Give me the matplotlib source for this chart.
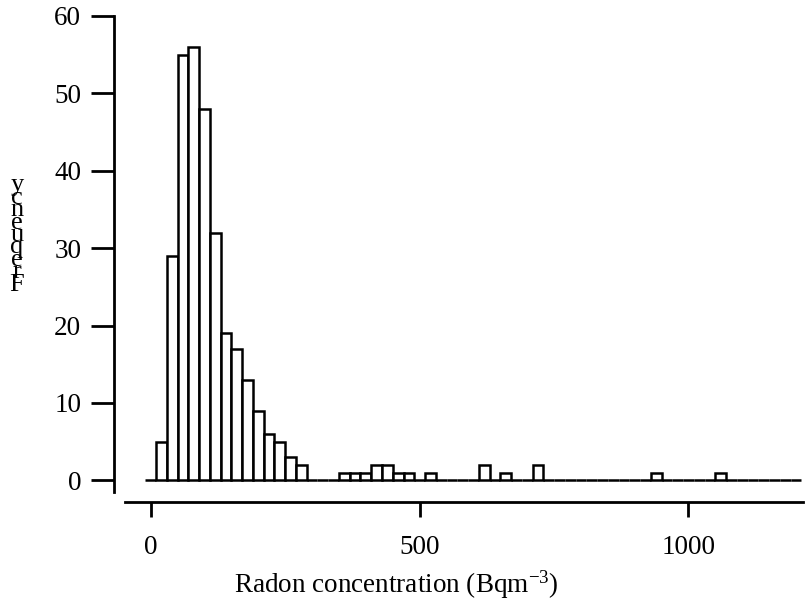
import numpy as np
import matplotlib
matplotlib.use("Agg")
import matplotlib.pyplot as plt

# Histogram bin edges (Bq m^-3) and counts per bin
bin_start = -10
bin_width = 20
bin_end = 1210
# (bin left edge, count) for non-empty bins
bin_lefts = [10, 30, 50, 70, 90, 110, 130, 150, 170, 190, 210, 230, 250, 270,
             350, 370, 390, 410, 430, 450, 470, 510,
             610, 650, 710, 930, 1050]
bin_counts = [5, 29, 55, 56, 48, 32, 19, 17, 13, 9, 6, 5, 3, 2,
              1, 1, 1, 2, 2, 1, 1, 1,
              2, 1, 2, 1, 1]
x_ticks = [0, 500, 1000]
y_ticks = [0, 10, 20, 30, 40, 50, 60]
x_label = "Radon concentration (Bqm$^{\\mathrm{-3}}$)"
y_label = "Frequency"

plt.rcParams['font.family'] = ['Liberation Serif', 'DejaVu Serif']
plt.rcParams['mathtext.fontset'] = 'custom'
plt.rcParams['mathtext.rm'] = 'Liberation Serif'
plt.rcParams['mathtext.it'] = 'Liberation Serif:italic'

edges = np.arange(bin_start, bin_end + bin_width, bin_width)
# rebuild weights per bin from the named lists
weights = np.zeros(len(edges) - 1)
for left, c in zip(bin_lefts, bin_counts):
    weights[int((left - bin_start) // bin_width)] = c
centers = edges[:-1] + bin_width / 2

fig = plt.figure(figsize=(8.12, 6.0), dpi=100)
ax = fig.add_axes([125 / 812, 108 / 600, 678 / 812, 476 / 600])

ax.hist(centers, bins=edges, weights=weights, histtype='bar',
        facecolor='white', edgecolor='black', linewidth=1.8)

ax.set_xlim(-48, 1213)
ax.set_ylim(-1.5, 60)

for s in ['top', 'right']:
    ax.spines[s].set_visible(False)
ax.spines['left'].set_position(('outward', 8))
ax.spines['bottom'].set_position(('outward', 7.2))
for s in ['left', 'bottom']:
    ax.spines[s].set_linewidth(2.0)

ax.set_xticks(x_ticks)
ax.set_yticks(y_ticks)
ax.tick_params(axis='y', direction='out', length=16.5, width=2.0, pad=7,
               labelsize=19.5)
ax.tick_params(axis='x', direction='out', length=11, width=2.0, pad=13,
               labelsize=19.5)

ax.set_xlabel(x_label, fontsize=19.5)
ax.xaxis.set_label_coords(0.40, -0.16)

# stacked-letter y label as in the reference
fig.text(17 / 812, 1 - 235 / 600, "\n".join(reversed(y_label)),
         fontsize=19, ha='center', va='center', linespacing=0.44,
         multialignment='center')

fig.savefig("out.png", dpi=100)
